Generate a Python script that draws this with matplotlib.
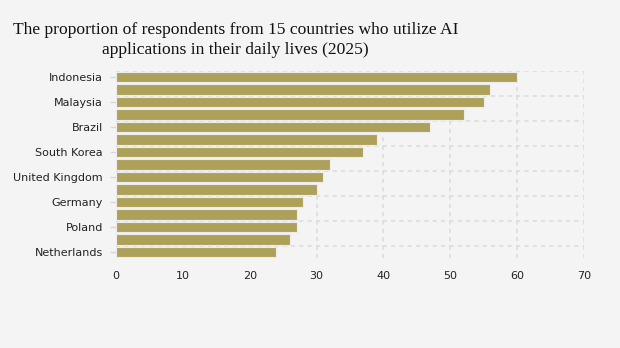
import matplotlib
matplotlib.use("Agg")
import matplotlib.pyplot as plt
import numpy as np

# Only every other country name is printed on the reference chart
categories = ["Indonesia", "", "Malaysia", "", "Brazil", "", "South Korea", "",
              "United Kingdom", "", "Germany", "", "Poland", "", "Netherlands"]
values = [60, 56, 55, 52, 47, 39, 37, 32, 31, 30, 28, 27, 27, 26, 24]
x_ticks = [0, 10, 20, 30, 40, 50, 60, 70]
title = "The proportion of respondents from 15 countries who utilize AI\napplications in their daily lives (2025)"

bg = "#f4f4f4"
fig = plt.figure(figsize=(6.2, 3.48), dpi=100, facecolor=bg)
ax = fig.add_axes([116/620, 1-258.25/348, (584-116)/620, (258.25-70.75)/348])
ax.set_facecolor(bg)

pos = np.arange(len(values))
ax.barh(pos, values, height=0.82, color="#ada15a", edgecolor="#ececec", linewidth=0.8, zorder=3)

ax.set_xlim(0, 70)
ax.set_ylim(len(values) - 0.5, -0.5)
ax.set_xticks(x_ticks)
ax.set_xticklabels([str(t) for t in x_ticks])

label_pos = [i for i, c in enumerate(categories) if c]
ax.set_yticks(label_pos)
ax.set_yticklabels([categories[i] for i in label_pos])
ax.set_yticks(np.arange(-0.5, len(values) - 1, 2), minor=True)

ax.grid(axis="x", which="major", color="#dcdcdc", linestyle=(0, (2.5, 2.5)), linewidth=1.2, zorder=0)
ax.grid(axis="y", which="minor", color="#dcdcdc", linestyle=(0, (2.5, 2.5)), linewidth=1.2, zorder=0)
ax.grid(axis="y", which="major", visible=False)

for s in ax.spines.values():
    s.set_visible(False)

ax.tick_params(axis="y", which="major", length=4.3, color="#d8d8d8", width=1, pad=5, labelsize=8, labelcolor="#222222")
ax.tick_params(axis="y", which="minor", length=0)
ax.tick_params(axis="x", length=0, pad=9, labelsize=8, labelcolor="#222222")

fig.text(13/620, 1-22/348, title, ha="left", va="top", multialignment="center",
         fontsize=12.6, family="Liberation Serif", color="#111111", linespacing=1.35)

fig.savefig("out.png", dpi=100, facecolor=bg)
